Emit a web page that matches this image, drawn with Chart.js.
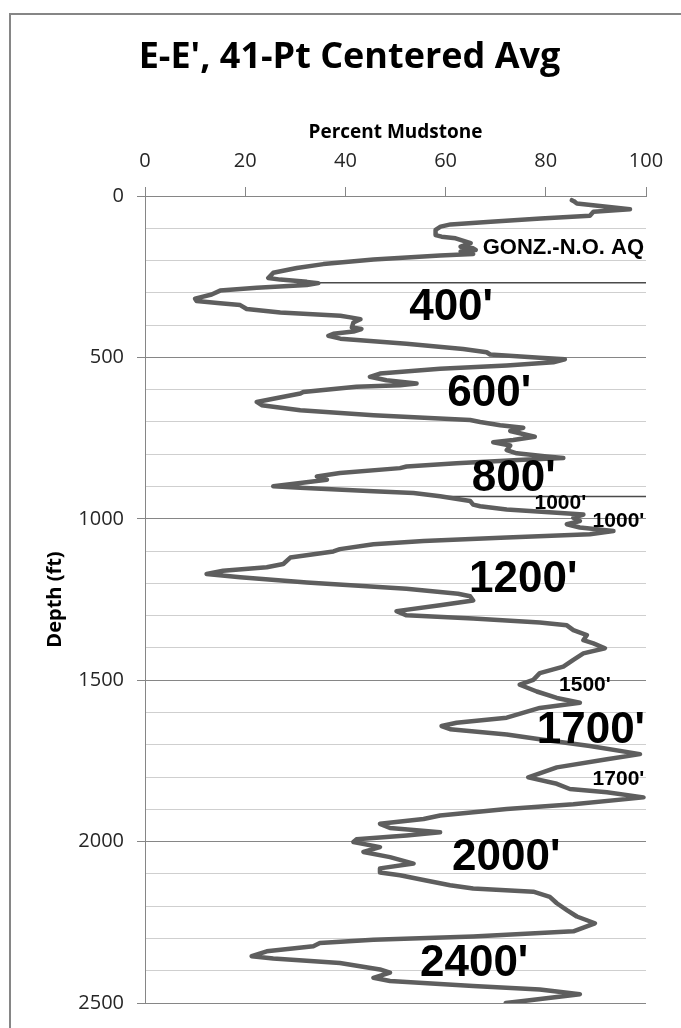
<!DOCTYPE html>
<html>
<head>
<meta charset="utf-8">
<script src="https://cdn.jsdelivr.net/npm/chart.js@4/dist/chart.umd.min.js"></script>
<style>
  html, body { margin: 0; padding: 0; background: #ffffff; }
  #wrap { width: 681px; height: 1028px; }
</style>
</head>
<body>
<div id="wrap"><canvas id="c" width="681" height="1028"></canvas></div>
<script>
// ---- data ----
const chartTitle = "E-E', 41-Pt Centered Avg";
const xAxisTitle = "Percent Mudstone";
const yAxisTitle = "Depth (ft)";

const depthFt = [
  13, 16, 23, 41, 49, 61, 70, 80, 88, 95, 105, 121, 126, 131, 146, 157, 162, 167, 172, 180,
  184, 197, 211, 223, 238, 254, 259, 266, 270, 276, 284, 293, 305, 318, 325, 332, 338, 350, 361, 371,
  376, 382, 392, 407, 412, 420, 427, 433, 442, 458, 474, 484, 491, 501, 506, 515, 525, 535, 550, 560,
  571, 581, 586, 591, 607, 612, 628, 638, 648, 664, 679, 694, 700, 710, 718, 728, 746, 756, 763, 773,
  787, 797, 807, 812, 817, 828, 838, 843, 858, 869, 879, 889, 899, 904, 915, 920, 930, 945, 956, 961,
  971, 981, 987, 997, 1007, 1017, 1027, 1038, 1048, 1058, 1069, 1079, 1094, 1101, 1120, 1140, 1150, 1161, 1171, 1181,
  1197, 1217, 1232, 1240, 1253, 1268, 1286, 1299, 1309, 1321, 1330, 1345, 1360, 1376, 1386, 1401, 1417, 1437, 1458, 1478,
  1499, 1514, 1535, 1555, 1570, 1586, 1616, 1632, 1642, 1652, 1668, 1683, 1704, 1729, 1745, 1770, 1801, 1821, 1837, 1847,
  1863, 1884, 1899, 1919, 1930, 1945, 1958, 1971, 1981, 1993, 2001, 2017, 2032, 2048, 2068, 2083, 2096, 2104, 2119, 2135,
  2145, 2155, 2171, 2191, 2212, 2232, 2253, 2278, 2294, 2304, 2314, 2324, 2340, 2355, 2362, 2376, 2396, 2406, 2422, 2432,
  2447, 2458, 2473, 2494, 2500
];
const mudstonePct = [
  85.2, 85.6, 86.2, 96.8, 89.5, 88.8, 79, 69, 61, 59, 58, 58, 59.2, 62, 65, 63, 65.5, 66, 63, 65.5,
  58.9, 45.6, 35.6, 30.3, 25.6, 24.6, 27, 32.3, 34.6, 32.3, 22.3, 15, 13.3, 10, 10.3, 15, 19, 20.3, 27, 39,
  41, 43, 41.6, 41.3, 43.2, 41.6, 37.6, 36.6, 39, 52.2, 63.5, 68.2, 68.9, 78.8, 83.8, 81.5, 72.2, 58.9, 46.9, 44.9,
  48.2, 54.2, 50.9, 42.2, 31.6, 31, 25.6, 22.3, 23.3, 31, 45.6, 64.9, 66.9, 70.9, 75.5, 72.9, 77.8, 73.5, 69.5, 72.9,
  72.2, 74.2, 80.2, 83.5, 75.5, 62.2, 52.2, 50.9, 38.9, 34.3, 36.3, 31, 25.6, 31, 45.6, 53.6, 58.9, 64.9, 65.5, 66.9,
  72.2, 82.2, 87.5, 85.5, 86.8, 84.2, 86.8, 93.5, 88.8, 72.2, 55.6, 45.6, 38.9, 37.6, 29, 27.6, 24.3, 15.6, 12.3, 19,
  32.3, 52.2, 62.5, 64.9, 65.5, 58.9, 50.2, 52.2, 65.5, 78.8, 84.2, 85.5, 88.2, 87.5, 89.5, 91.8, 87.5, 85.5, 83.5, 78.8,
  77.5, 74.8, 78.2, 82.2, 86.8, 78.8, 72.2, 62.2, 59.2, 60.9, 72.2, 78.8, 88.8, 98.8, 92.2, 82.2, 76.5, 82.2, 84.8, 92.2,
  99.5, 85.5, 72.2, 58.9, 55.6, 46.9, 48.9, 58.9, 52.2, 42.2, 41.6, 46.9, 43.6, 48.9, 53.6, 46.9, 46.9, 50.9, 55.6, 60.9,
  65.5, 77.5, 80.8, 82.2, 84.2, 86.2, 89.8, 85.5, 65.5, 45.6, 34.9, 33.6, 24.3, 21.3, 25.6, 38.9, 46.9, 48.9, 45.6, 48.9,
  65.5, 78.8, 86.8, 75.5, 72
];

// horizontal marker lines (depth, from-percent, to-percent)
const markerDepths = [269, 931];
const markerFrom = [34.6, 59.3];
const markerTo = [100, 100];

// text annotations (label, percent, depth, big/small)
const noteText  = ["GONZ.-N.O. AQ", "400'", "600'", "800'", "1000'", "1000'", "1200'", "1500'", "1700'", "1700'", "2000'", "2400'"];
const notePct   = [83.5, 61.1, 68.7, 73.6, 82.9, 94.5, 75.5, 87.8, 89.0, 94.5, 72.1, 65.7];
const noteDepth = [162, 347, 612, 877, 953, 1006, 1190, 1516, 1657, 1808, 2051, 2379];
const noteKind  = ["mid", "big", "big", "big", "small", "small", "big", "small", "big", "small", "big", "big"];

const xTickStep = 20;
const yTickStep = 100;
const yLabelStep = 500;

// ---- build ----
const mainPoints = depthFt.map((d, i) => ({ x: mudstonePct[i], y: d }));
const markerSets = markerDepths.map((d, i) => ({
  data: [{ x: markerFrom[i], y: d }, { x: markerTo[i], y: d }],
  showLine: true,
  borderColor: '#4a4a4a',
  borderWidth: 1.5,
  pointRadius: 0,
  order: 2
}));

const fontSizes = { big: 44, mid: 22, small: 21 };

const framePlugin = {
  id: 'frame',
  beforeDraw(chart) {
    const ctx = chart.ctx;
    ctx.save();
    ctx.fillStyle = '#ffffff';
    ctx.fillRect(0, 0, chart.width, chart.height);
    ctx.strokeStyle = '#868686';
    ctx.lineWidth = 2;
    ctx.strokeRect(10, 14, chart.width + 20, chart.height + 20);
    ctx.restore();
  }
};

const notesPlugin = {
  id: 'notes',
  afterDatasetsDraw(chart) {
    const ctx = chart.ctx;
    const xs = chart.scales.x, ys = chart.scales.y;
    ctx.save();
    ctx.fillStyle = '#000000';
    ctx.textAlign = 'center';
    ctx.textBaseline = 'middle';
    noteText.forEach((t, i) => {
      ctx.font = 'bold ' + fontSizes[noteKind[i]] + 'px "Liberation Sans", Arial, sans-serif';
      ctx.fillText(t, xs.getPixelForValue(notePct[i]), ys.getPixelForValue(noteDepth[i]));
    });
    ctx.restore();
  }
};

const axisFont = { family: '"Open Sans", sans-serif', size: 20 };

new Chart(document.getElementById('c'), {
  type: 'scatter',
  data: {
    datasets: [
      {
        data: mainPoints,
        showLine: true,
        borderColor: '#5e5e5e',
        borderWidth: 4.5,
        pointRadius: 0,
        tension: 0,
        borderJoinStyle: 'round',
        borderCapStyle: 'round',
        order: 1
      },
      ...markerSets
    ]
  },
  options: {
    responsive: false,
    animation: false,
    layout: { padding: { left: 18, right: 0, top: 0, bottom: 22 } },
    plugins: {
      legend: { display: false },
      tooltip: { enabled: false },
      title: {
        display: true,
        text: chartTitle,
        color: '#000000',
        font: { family: '"Open Sans", sans-serif', size: 36, weight: 'bold', lineHeight: 1.2 },
        padding: { top: 36, bottom: 10 }
      }
    },
    scales: {
      x: {
        type: 'linear',
        position: 'top',
        min: 0,
        max: 100,
        ticks: { stepSize: xTickStep, font: axisFont, color: '#262626', padding: 14 },
        grid: { drawOnChartArea: false, drawTicks: true, tickLength: 9, color: '#868686' },
        border: { display: true, color: '#868686', width: 1 },
        title: {
          display: true,
          text: xAxisTitle,
          color: '#000000',
          font: { family: '"Open Sans", sans-serif', size: 19, weight: 'bold', lineHeight: 1.2 },
          padding: { top: 32, bottom: 0 }
        },
        afterFit(s) { s.height = 196 - 89.2; }
      },
      y: {
        type: 'linear',
        position: 'left',
        reverse: true,
        min: 0,
        max: 2500,
        ticks: {
          stepSize: yTickStep,
          maxTicksLimit: 100,
          autoSkip: false,
          font: axisFont,
          color: '#262626',
          padding: 13,
          callback: v => (v % yLabelStep === 0 ? String(v) : '')
        },
        grid: {
          tickLength: 8,
          color: c => (c.tick && c.tick.value % yLabelStep === 0 ? '#868686' : '#cfcfcf'),
          tickColor: c => (c.tick && c.tick.value % yLabelStep === 0 ? '#868686' : 'rgba(0,0,0,0)')
        },
        border: { display: true, color: '#868686', width: 1 },
        title: {
          display: true,
          text: yAxisTitle,
          color: '#000000',
          font: { family: '"Open Sans", sans-serif', size: 20, weight: 'bold', lineHeight: 1.2 },
          padding: { top: 25, bottom: 0 }
        },
        afterFit(s) { s.width = 127; }
      },
      y2: {
        type: 'linear',
        position: 'right',
        display: true,
        grid: { display: false, drawTicks: false },
        border: { display: false },
        ticks: { display: false },
        afterFit(s) { s.width = 35; }
      }
    }
  },
  plugins: [framePlugin, notesPlugin]
});
</script>
</body>
</html>
